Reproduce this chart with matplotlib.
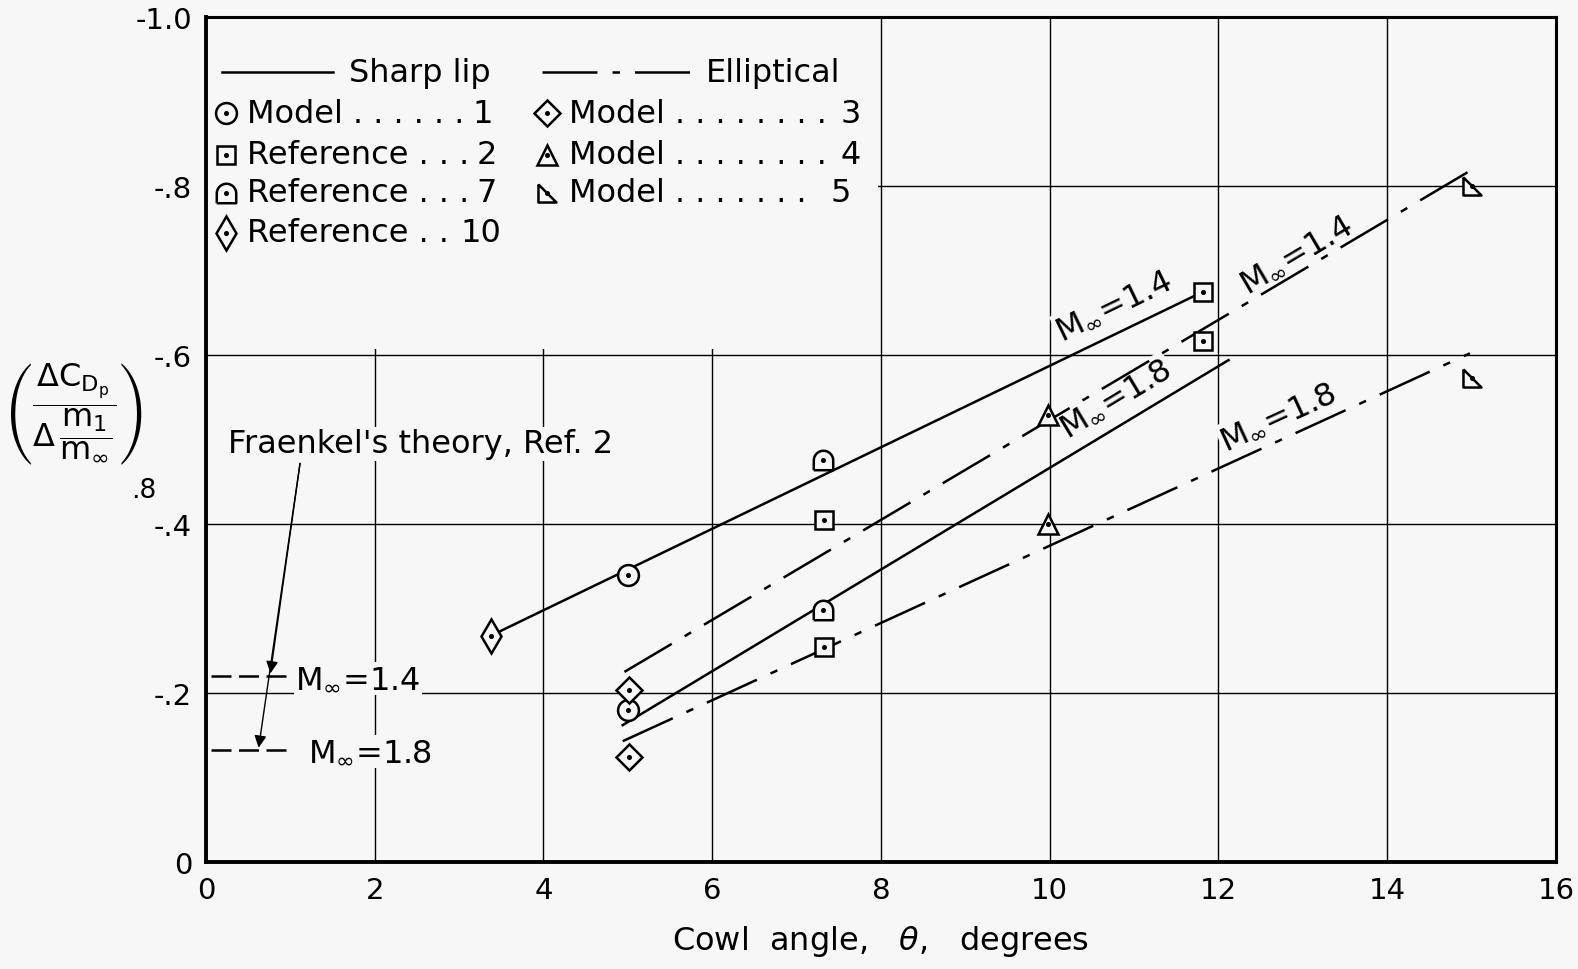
import numpy as np
import matplotlib
matplotlib.use('Agg')
import matplotlib.pyplot as plt
from matplotlib.path import Path
from matplotlib.patches import Rectangle

# pressure-drag slope vs cowl angle (NACA style chart)

# measured points
model1_x = [5.0, 5.0]
model1_y = [-0.34, -0.18]
ref2_x = [7.33, 7.33, 11.82, 11.82]
ref2_y = [-0.405, -0.255, -0.675, -0.617]
ref7_x = [7.31, 7.31]
ref7_y = [-0.476, -0.298]
ref10_x = [3.38]
ref10_y = [-0.268]
model3_x = [5.02, 5.02]
model3_y = [-0.203, -0.124]
model4_x = [9.98, 9.98]
model4_y = [-0.529, -0.40]
model5_x = [15.0, 15.0]
model5_y = [-0.80, -0.573]

# faired curves
sharp14_x = [3.38, 11.82]
sharp14_y = [-0.268, -0.675]
sharp18_x = [4.94, 12.12]
sharp18_y = [-0.162, -0.594]
ell14_x = [4.96, 15.1]
ell14_y = [-0.225, -0.825]
ell18_x = [4.94, 14.98]
ell18_y = [-0.143, -0.602]

# Fraenkel's theory
fraenkel_x = [0.06, 1.0]
fraenkel14 = -0.22
fraenkel18 = -0.132

xticks = [0, 2, 4, 6, 8, 10, 12, 14, 16]
yticks = [0, -0.2, -0.4, -0.6, -0.8, -1.0]
ytick_labels = ['0', '-.2', '-.4', '-.6', '-.8', '-1.0']

BG = '#f7f7f7'
plt.rcParams['font.family'] = 'DejaVu Sans'
plt.rcParams['mathtext.fontset'] = 'dejavusans'

fig = plt.figure(figsize=(15.78, 9.70), dpi=100, facecolor=BG)
ax = fig.add_axes([0.1305, 0.1103, 0.8555, 0.8711], facecolor=BG)

ax.set_xlim(0, 16)
ax.set_ylim(0, -1.0)
ax.set_xticks(xticks)
ax.set_yticks(yticks)
ax.set_yticklabels(ytick_labels)
ax.tick_params(length=0, labelsize=21, pad=10)
ax.set_axisbelow(True)
ax.grid(True, color='k', lw=1.0)
for s in ax.spines.values():
    s.set_linewidth(2.2)
ax.spines['left'].set_linewidth(2.8)
ax.spines['bottom'].set_linewidth(2.8)

# blank area behind the key
ax.add_patch(Rectangle((0, -1.0), 7.97, 0.393, facecolor=BG, edgecolor='none', zorder=1))

# marker shapes
t = np.linspace(0, np.pi, 24)
ref7_marker = Path(np.vstack([[[-1, -1], [1, -1], [1, 0]],
                              np.column_stack([np.cos(t), np.sin(t)]),
                              [[-1, -1]]]))
right_tri = Path([[-1, 1], [-1, -1], [1, -1], [-1, 1]])

series = [
    (model1_x, model1_y, 'o', 15),
    (ref2_x, ref2_y, 's', 13),
    (ref7_x, ref7_y, ref7_marker, 14),
    (ref10_x, ref10_y, 'd', 17),
    (model3_x, model3_y, 'D', 13),
    (model4_x, model4_y, '^', 15),
    (model5_x, model5_y, right_tri, 13),
]

ELL = (22, 6, 3, 6)
lw = 1.8
ax.plot(sharp14_x, sharp14_y, color='k', lw=lw, zorder=3)
ax.plot(sharp18_x, sharp18_y, color='k', lw=lw, zorder=3)
ax.plot(ell14_x, ell14_y, color='k', lw=lw, dashes=ELL, zorder=3)
ax.plot(ell18_x, ell18_y, color='k', lw=lw, dashes=ELL, zorder=3)

ax.plot(fraenkel_x, [fraenkel14] * 2, color='k', lw=lw, dashes=(8, 3), zorder=3)
ax.plot(fraenkel_x, [fraenkel18] * 2, color='k', lw=lw, dashes=(8, 3), zorder=3)


def dotted_marker(x, y, m, ms):
    ax.plot(x, y, ls='none', marker=m, ms=ms, mfc=BG, mec='k', mew=1.8, zorder=4)
    ax.plot(x, y, ls='none', marker='o', ms=2.6, color='k', zorder=5)


for x, y, m, ms in series:
    dotted_marker(x, y, m, ms)

# key
FS = 23
row_y = [-0.886, -0.837, -0.792, -0.745]
ax.plot([0.19, 1.51], [-0.9345] * 2, color='k', lw=lw, zorder=3)
ax.text(1.69, -0.9345, 'Sharp lip', fontsize=FS, va='center', zorder=3)
ax.plot([3.98, 5.76], [-0.9345] * 2, color='k', lw=lw, dashes=ELL, zorder=3)
ax.text(5.92, -0.9345, 'Elliptical', fontsize=FS, va='center', zorder=3)

key_left = [
    ('o', 15, 'Model . . . . . .', '1', 3.4),
    ('s', 13, 'Reference . . .', '2', 3.45),
    (ref7_marker, 14, 'Reference . . .', '7', 3.45),
    ('d', 17, 'Reference . .', '10', 3.5),
]
key_right = [
    ('D', 13, 'Model . . . . . . . .', '3', 7.76),
    ('^', 15, 'Model . . . . . . . .', '4', 7.76),
    (right_tri, 13, 'Model . . . . . . .', '5', 7.64),
]
for i, (m, ms, lab, num, xr) in enumerate(key_left):
    dotted_marker([0.24], [row_y[i]], m, ms)
    ax.text(0.49, row_y[i], lab, fontsize=FS, va='center', zorder=3)
    ax.text(xr, row_y[i], num, fontsize=FS, va='center', ha='right', zorder=3)
for i, (m, ms, lab, num, xr) in enumerate(key_right):
    dotted_marker([4.04], [row_y[i]], m, ms)
    ax.text(4.3, row_y[i], lab, fontsize=FS, va='center', zorder=3)
    ax.text(xr, row_y[i], num, fontsize=FS, va='center', ha='right', zorder=3)


# curve labels, rotated along their curves
def angle_of(xs, ys):
    p = ax.transData.transform(np.column_stack([xs, ys]))
    return np.degrees(np.arctan2(p[1, 1] - p[0, 1], p[1, 0] - p[0, 0]))


box = dict(facecolor=BG, edgecolor='none', pad=1)
for (xs, ys), pos, lab in [((sharp14_x, sharp14_y), (10.76, -0.66), r'M$_\infty$=1.4'),
                           ((ell14_x, ell14_y), (12.92, -0.72), r'M$_\infty$=1.4'),
                           ((sharp18_x, sharp18_y), (10.78, -0.55), r'M$_\infty$=1.8'),
                           ((ell18_x, ell18_y), (12.7, -0.528), r'M$_\infty$=1.8')]:
    ax.text(pos[0], pos[1], lab, fontsize=FS, rotation=angle_of(xs, ys),
            rotation_mode='anchor', ha='center', va='center', bbox=box, zorder=1.5)

ax.text(1.06, -0.217, r'M$_\infty$=1.4', fontsize=FS, va='center', bbox=box, zorder=1.5)
ax.text(1.21, -0.131, r'M$_\infty$=1.8', fontsize=FS, va='center', bbox=box, zorder=1.5)
ax.text(0.26, -0.495, "Fraenkel's theory, Ref. 2", fontsize=FS, va='center', bbox=box, zorder=1.5)
ax.annotate('', xy=(0.76, fraenkel14), xytext=(1.12, -0.475),
            arrowprops=dict(arrowstyle='-|>', color='k', lw=1.0, mutation_scale=18), zorder=3)
ax.annotate('', xy=(0.62, fraenkel18), xytext=(1.12, -0.475),
            arrowprops=dict(arrowstyle='-|>', color='k', lw=1.0, mutation_scale=18), zorder=3)

ax.set_xlabel(r'Cowl  angle,   $\theta$,   degrees', fontsize=FS, labelpad=14)
fig.text(0.047, 0.573,
         r'$\left(\dfrac{\Delta \mathrm{C}_{\mathrm{D_p}}}{\Delta\,\dfrac{\mathrm{m}_1}{\mathrm{m}_\infty}}\right)$',
         fontsize=23, ha='center', va='center')
fig.text(0.083, 0.494, '.8', fontsize=19, ha='left', va='center')

fig.savefig('out.png', dpi=100, facecolor=BG)
